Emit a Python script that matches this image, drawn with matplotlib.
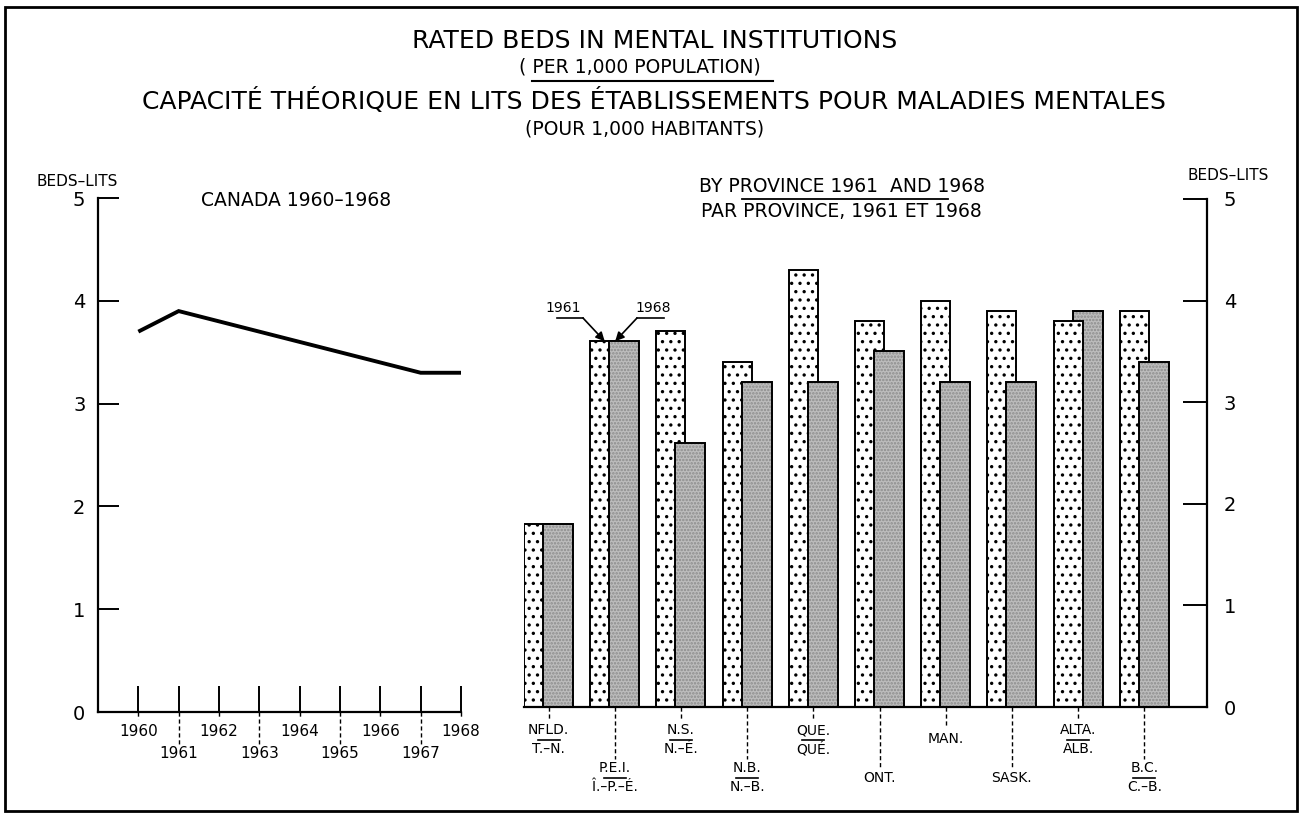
import matplotlib
matplotlib.use("Agg")
import matplotlib.pyplot as plt
from matplotlib.patches import Rectangle
from matplotlib.lines import Line2D
import numpy as np

plt.rcParams['font.family'] = ['DejaVu Sans']
plt.rcParams['hatch.linewidth'] = 1.2

# ---------------- data ----------------
years = [1960, 1961, 1962, 1963, 1964, 1965, 1966, 1967, 1968]
canada_beds = [3.7, 3.9, 3.8, 3.7, 3.6, 3.5, 3.4, 3.3, 3.3]

prov_en = ["NFLD.", "P.E.I.", "N.S.", "N.B.", "QUE.", "ONT.", "MAN.", "SASK.", "ALTA.", "B.C."]
prov_fr = ["T.–N.", "Î.–P.–É.", "N.–É.", "N.–B.", "QUÉ.", "ONT.", "MAN.", "SASK.", "ALB.", "C.–B."]
beds_1961 = [1.8, 3.6, 3.7, 3.4, 4.3, 3.8, 4.0, 3.9, 3.8, 3.9]
beds_1968 = [1.8, 3.6, 2.6, 3.2, 3.2, 3.5, 3.2, 3.2, 3.9, 3.4]

yticks = [0, 1, 2, 3, 4, 5]
ytick_labels = ["0", "1", "2", "3", "4", "5"]

W, H = 1301, 813
fig = plt.figure(figsize=(W / 100, H / 100), dpi=100)


def fx(px):
    return px / W


def fy(py):
    return 1 - py / H


# ---------------- border ----------------
fig.add_artist(Rectangle((fx(5), fy(811)), (1297 - 5) / W, (811 - 7) / H,
                         transform=fig.transFigure, fill=False, lw=2.0, color='black'))

# ---------------- titles ----------------
fig.text(fx(655), fy(41), "RATED BEDS IN MENTAL INSTITUTIONS", ha='center', va='center', fontsize=18)
fig.text(fx(640), fy(67), "( PER 1,000 POPULATION)", ha='center', va='center', fontsize=13.5)
fig.add_artist(Line2D([fx(532), fx(773)], [fy(81), fy(81)], transform=fig.transFigure, color='black', lw=1.5))
fig.text(fx(654), fy(101), "CAPACITÉ THÉORIQUE EN LITS DES ÉTABLISSEMENTS POUR MALADIES MENTALES",
         ha='center', va='center', fontsize=18)
fig.text(fx(645), fy(129), "(POUR 1,000 HABITANTS)", ha='center', va='center', fontsize=13.5)

# ---------------- left panel: Canada ----------------
ax1 = fig.add_axes([fx(98), fy(712), (461 - 98) / W, (712 - 198) / H])
ax1.set_xlim(1959, 1968)
ax1.set_ylim(0, 5)
ax1.plot(years, canada_beds, color='black', lw=2.8, solid_joinstyle='miter', solid_capstyle='butt')
for s in ['top', 'right']:
    ax1.spines[s].set_visible(False)
for s in ['left', 'bottom']:
    ax1.spines[s].set_linewidth(1.6)
ax1.set_yticks(yticks)
ax1.set_yticklabels(ytick_labels, fontsize=14)
ax1.tick_params(axis='y', direction='in', length=15, width=1.4, pad=9)
ax1.set_xticks(years)
ax1.set_xticklabels([])
ax1.tick_params(axis='x', direction='in', length=19, width=1.4)
for i, yr in enumerate(years):
    odd = (yr % 2 == 1)
    ax1.plot([yr, yr], [0, -0.33 if odd else -0.07], color='black', lw=1.0,
             ls=(0, (3, 2)), clip_on=False)
    ax1.text(yr, -0.40 if odd else -0.185, str(yr), ha='center', va='center', fontsize=11)
fig.text(fx(77), fy(182), "BEDS–LITS", ha='center', va='center', fontsize=11)
fig.text(fx(296), fy(200), "CANADA 1960–1968", ha='center', va='center', fontsize=13.5)

# ---------------- right panel: provinces ----------------
ax2 = fig.add_axes([fx(524), fy(707), (1207 - 524) / W, (707 - 199) / H])
group_px = 66.2
n = len(prov_en)
xs = np.arange(n)
w61 = 29 / group_px
off68 = 19 / group_px
w68 = 30 / group_px
ax2.set_xlim(0, (1207 - 524) / group_px)
ax2.set_ylim(0, 5)

for i in range(n):
    z61, z68 = (4, 3) if beds_1961[i] < beds_1968[i] else (3, 4)
    # 1961 bar: white with dots
    ax2.bar(xs[i], beds_1961[i], width=w61, align='edge', facecolor='white',
            edgecolor='black', hatch='..', lw=1.4, zorder=z61)
    # 1968 bar: grey stipple
    ax2.bar(xs[i] + off68, beds_1968[i], width=w68, align='edge', facecolor='#bdbdbd',
            edgecolor='none', lw=0, zorder=z68)
    ax2.bar(xs[i] + off68, beds_1968[i], width=w68, align='edge', facecolor='none',
            edgecolor='#8c8c8c', hatch='.....', lw=0, zorder=z68)
    ax2.bar(xs[i] + off68, beds_1968[i], width=w68, align='edge', facecolor='none',
            edgecolor='black', lw=1.4, zorder=z68)

for s in ['top', 'left']:
    ax2.spines[s].set_visible(False)
for s in ['right', 'bottom']:
    ax2.spines[s].set_linewidth(1.6)
ax2.spines['bottom'].set_zorder(6)
ax2.set_xticks([])
ax2.yaxis.tick_right()
ax2.set_yticks(yticks)
ax2.set_yticklabels(ytick_labels, fontsize=14)
ax2.tick_params(axis='y', direction='in', length=17, width=1.4, pad=12)

# province labels
unit = (707 - 199) / 5.0


def dy(py):
    return (707 - py) / unit


for i in range(n):
    cx = xs[i] + 24.5 / group_px
    high = (i % 2 == 0)
    if prov_en[i] == prov_fr[i]:
        ly = dy(739) if high else dy(778)
        end = dy(727) if high else dy(768)
        ax2.plot([cx, cx], [0, end], color='black', lw=1.0, ls=(0, (3, 2)), clip_on=False)
        ax2.text(cx, ly, prov_en[i], ha='center', va='center', fontsize=10, clip_on=False)
    else:
        y_en = dy(730) if high else dy(768)
        y_fr = dy(749) if high else dy(787)
        end = dy(720) if high else dy(759)
        ax2.plot([cx, cx], [0, end], color='black', lw=1.0, ls=(0, (3, 2)), clip_on=False)
        ax2.text(cx, y_en, prov_en[i], ha='center', va='center', fontsize=10, clip_on=False)
        ax2.text(cx, y_fr, prov_fr[i], ha='center', va='center', fontsize=10, clip_on=False)
        half = 11 / group_px
        ax2.plot([cx - half, cx + half], [dy(739.5) if high else dy(777.5)] * 2,
                 color='black', lw=1.2, clip_on=False)

# year pointers on P.E.I.
k = 1
lab_y = dy(308)
line_y = dy(318)
ax2.text((563 - 524) / group_px, lab_y, "1961", ha='center', va='center', fontsize=10)
ax2.plot([(557 - 524) / group_px, (583 - 524) / group_px], [line_y, line_y], color='black', lw=1.2)
ax2.annotate("", xy=(xs[k] + w61 / 2, beds_1961[k]), xytext=((583 - 524) / group_px, line_y),
             arrowprops=dict(arrowstyle='-|>', color='black', lw=1.2, mutation_scale=13,
                             shrinkA=0, shrinkB=0), zorder=7)
ax2.text((653 - 524) / group_px, lab_y, "1968", ha='center', va='center', fontsize=10)
ax2.plot([(637 - 524) / group_px, (664 - 524) / group_px], [line_y, line_y], color='black', lw=1.2)
ax2.annotate("", xy=(xs[k] + off68 + 0.2 * w68, beds_1968[k]), xytext=((637 - 524) / group_px, line_y),
             arrowprops=dict(arrowstyle='-|>', color='black', lw=1.2, mutation_scale=13,
                             shrinkA=0, shrinkB=0), zorder=7)

# panel headings
fig.text(fx(842), fy(186), "BY PROVINCE 1961  AND 1968", ha='center', va='center', fontsize=13.5)
fig.add_artist(Line2D([fx(742), fx(948)], [fy(199), fy(199)], transform=fig.transFigure, color='black', lw=1.3))
fig.text(fx(841), fy(211), "PAR PROVINCE, 1961 ET 1968", ha='center', va='center', fontsize=13.5)
fig.text(fx(1228), fy(176), "BEDS–LITS", ha='center', va='center', fontsize=11)

fig.savefig("out.png", dpi=100)
